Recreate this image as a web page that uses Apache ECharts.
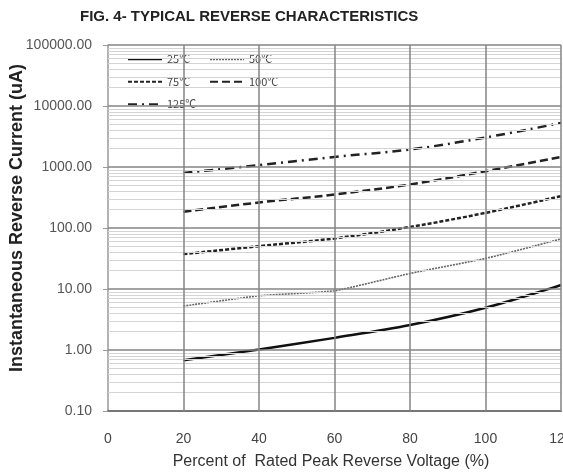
<!DOCTYPE html>
<html>
<head>
<meta charset="utf-8">
<script src="https://cdn.jsdelivr.net/npm/echarts@6/dist/echarts.min.js"></script>
<style>html,body{margin:0;padding:0;background:#fff;}#c{width:563px;height:474px;}</style>
</head>
<body>
<div id="c"></div>
<script>
// ---- data ----
var pct = [20, 40, 60, 80, 100, 120];
var i25 = [0.68, 1.02, 1.58, 2.56, 4.92, 11.6];
var i50 = [5.25, 7.74, 9.35, 18, 31.7, 66];
var i75 = [37.3, 50.4, 67.5, 104, 177, 333];
var i100 = [184, 262, 354, 517, 853, 1465];
var i125 = [800, 1071, 1465, 1936, 3043, 5272];
var seriesNames = ['25℃', '50℃', '75℃', '100℃', '125℃'];
var xTicks = [0, 20, 40, 60, 80, 100, 120];
var yDecades = [0.1, 1, 10, 100, 1000, 10000, 100000];
var minorMultipliers = [2, 3, 4, 5, 6, 7, 8, 9];

function pairs(ys) { return pct.map(function (p, i) { return [p, ys[i]]; }); }

// gridlines (drawn as markLines through the axes)
var gridLines = [];
yDecades.slice(0, -1).forEach(function (d) {
  minorMultipliers.forEach(function (m) {
    gridLines.push({ yAxis: +(d * m).toPrecision(3), lineStyle: { color: '#d4d4d4', width: 1, type: 'solid' } });
  });
});
yDecades.slice(1).forEach(function (d) {
  gridLines.push({ yAxis: d, lineStyle: { color: '#858585', width: 1.5, type: 'solid' } });
});
xTicks.slice(1).forEach(function (x) {
  gridLines.push({ xAxis: x, lineStyle: { color: '#858585', width: 1.5, type: 'solid' } });
});

var styles = [
  { type: 'solid', width: 2.5, color: '#111' },
  { type: [2, 1], width: 1.6, color: '#666' },
  { type: [4, 2], width: 2.5, color: '#222' },
  { type: [8, 4], width: 2.5, color: '#222' },
  { type: [9, 5, 2, 5], width: 2.5, color: '#222' }
];
var datas = [i25, i50, i75, i100, i125];

var series = [{
  type: 'line', name: 'grid', data: [], silent: true, z: 1,
  markLine: { silent: true, symbol: ['none', 'none'], label: { show: false }, animation: false, data: gridLines }
}];
datas.forEach(function (d, k) {
  series.push({
    type: 'line', name: seriesNames[k], data: pairs(d), showSymbol: false, symbol: 'none',
    smooth: k === 1 ? 0.15 : 0.35, z: 3,
    lineStyle: styles[k], itemStyle: { color: styles[k].color }
  });
});

var chart = echarts.init(document.getElementById('c'), null, { renderer: 'canvas' });
chart.setOption({
  animation: false,
  backgroundColor: '#fff',
  title: {
    text: 'FIG. 4- TYPICAL REVERSE CHARACTERISTICS',
    left: 75, top: 4,
    textStyle: { fontFamily: 'Liberation Sans', fontSize: 15, fontWeight: 'bold', color: '#222' }
  },
  grid: { left: 108, right: 2, top: 45, bottom: 63, containLabel: false, outerBoundsMode: 'none' },
  legend: {
    data: seriesNames,
    left: 116, top: 48, width: 160,
    orient: 'horizontal',
    padding: [5, 7, 7, 11],
    itemGap: 10, itemWidth: 34, itemHeight: 12,
    backgroundColor: '#fff',
    itemStyle: { opacity: 0 },
    textStyle: { fontFamily: 'Noto Sans CJK SC', fontSize: 11, color: '#444', width: 32, lineHeight: 12.5 }
  },
  xAxis: {
    type: 'value', min: 0, max: 120, interval: 20,
    name: 'Percent of  Rated Peak Reverse Voltage (%)',
    nameLocation: 'middle', nameGap: 43, nameMoveOverlap: false,
    nameTextStyle: { fontFamily: 'Liberation Sans', fontSize: 16, color: '#333', padding: [0, 7, 0, 0] },
    axisLine: { show: true, lineStyle: { color: '#777', width: 2 } },
    axisTick: { show: false },
    splitLine: { show: false },
    axisLabel: { margin: 21, fontFamily: 'Liberation Sans', fontSize: 14, color: '#444' }
  },
  yAxis: {
    type: 'log', logBase: 10, min: 0.1, max: 100000,
    name: 'Instantaneous Reverse Current (uA)',
    nameLocation: 'middle', nameGap: 82, nameRotate: 90, nameMoveOverlap: false,
    nameTextStyle: { fontFamily: 'Liberation Sans', fontSize: 18, fontWeight: 'bold', color: '#222', padding: [0, 0, 0, 20] },
    axisLine: { show: true, lineStyle: { color: '#999', width: 1.5 } },
    axisTick: { show: true, length: 5, lineStyle: { color: '#999' } },
    splitLine: { show: false },
    minorTick: { show: false },
    axisLabel: {
      margin: 16, fontFamily: 'Liberation Sans', fontSize: 14, color: '#555',
      formatter: function (v) { return Number(v).toFixed(2); }
    }
  },
  series: series
});
</script>
</body>
</html>
